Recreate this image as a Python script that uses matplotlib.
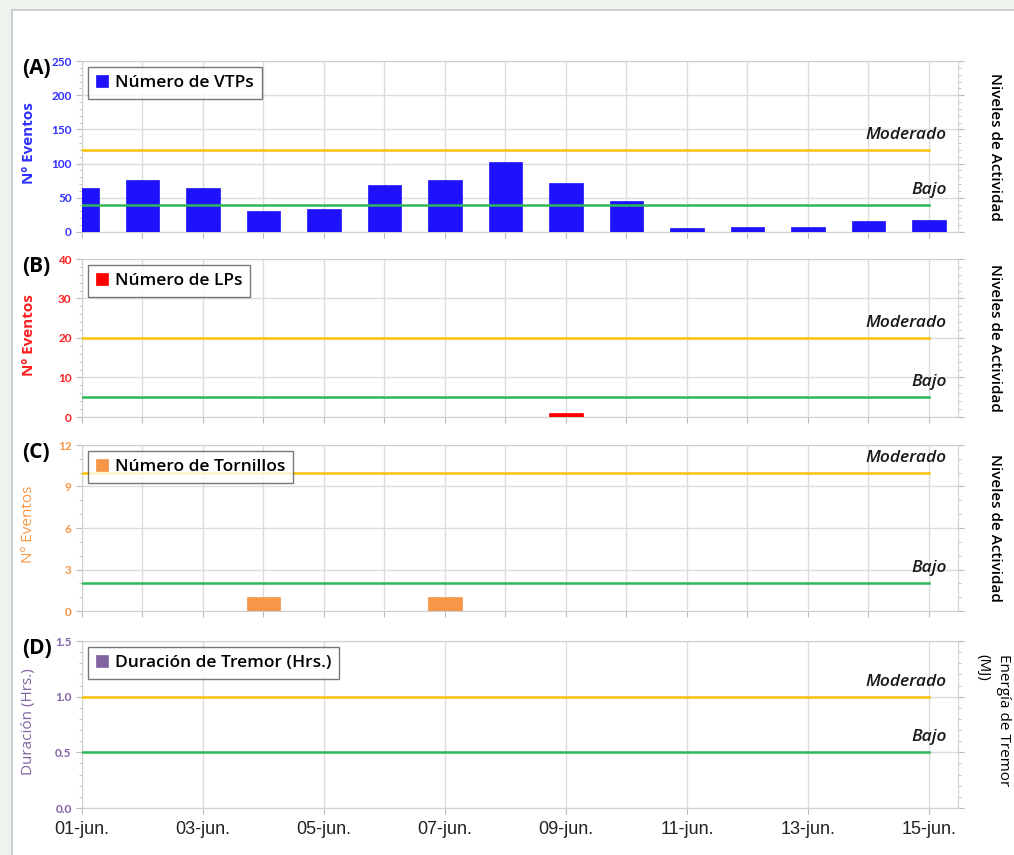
import matplotlib.pyplot as plt
from matplotlib.patches import Rectangle
from matplotlib.ticker import MultipleLocator

# days of June shown on the x axis
days = [1, 2, 3, 4, 5, 6, 7, 8, 9, 10, 11, 12, 13, 14, 15]
day_labels = ['01-jun.', '02-jun.', '03-jun.', '04-jun.', '05-jun.', '06-jun.', '07-jun.',
              '08-jun.', '09-jun.', '10-jun.', '11-jun.', '12-jun.', '13-jun.', '14-jun.', '15-jun.']

# event counts per day
vtp = [65, 76, 65, 30, 34, 69, 76, 103, 72, 45, 6, 7, 8, 16, 17]
lp = [0, 0, 0, 0, 0, 0, 0, 0, 1, 0, 0, 0, 0, 0, 0]
tornillos = [0, 0, 0, 1, 0, 0, 1, 0, 0, 0, 0, 0, 0, 0, 0]
tremor = [0, 0, 0, 0, 0, 0, 0, 0, 0, 0, 0, 0, 0, 0, 0]

# activity thresholds (moderado, bajo)
umbral_vtp = [120, 40]
umbral_lp = [20, 5]
umbral_torn = [10, 2]
umbral_trem = [1.0, 0.5]

W, H = 1014, 855
fig = plt.figure(figsize=(W / 100, H / 100), dpi=100)
fig.patch.set_facecolor('#eef3ee')
fig.patches.append(Rectangle((12 / W, -0.01), 1.0, 845 / H + 0.01, transform=fig.transFigure,
                             facecolor='white', edgecolor='#c4c8c4', lw=1.2, zorder=-10))

grid_c = '#dcdcdc'
mod_c = '#ffc000'
bajo_c = '#2db85a'

panels = [
    # label, values, color, label color, ylabel, ylim, major, minor, thresholds, top px, bottom px, legend text
    ('(A)', vtp, '#1d12fb', '#3030ff', 'Nº Eventos', 250, 50, 10, umbral_vtp, 61, 232, 'Número de VTPs', 'bold'),
    ('(B)', lp, '#ff0000', '#ff2020', 'Nº Eventos', 40, 10, 2, umbral_lp, 259, 417, 'Número de LPs', 'bold'),
    ('(C)', tornillos, '#f79646', '#f79646', 'Nº Eventos', 12, 3, 1, umbral_torn, 445, 611, 'Número de Tornillos', 'normal'),
    ('(D)', tremor, '#8064a2', '#8064a2', 'Duración (Hrs.)', 1.5, 0.5, 0.1, umbral_trem, 641, 808, 'Duración de Tremor (Hrs.)', 'normal'),
]

left, right = 82, 958
for i, (tag, vals, col, lcol, ylab, ymax, major, minor, thr, top, bot, legtxt, ylw) in enumerate(panels):
    ax = fig.add_axes([left / W, 1 - bot / H, (right - left) / W, (bot - top) / H])
    ax.bar(days, vals, width=0.55, color=col, edgecolor=col, lw=0.5, label=legtxt, zorder=3)
    ax.plot([days[0], days[-1]], [thr[0], thr[0]], color=mod_c, lw=1.8, zorder=4)
    ax.plot([days[0], days[-1]], [thr[1], thr[1]], color=bajo_c, lw=1.8, zorder=4)
    for lv, name in zip(thr, ['Moderado', 'Bajo']):
        ax.annotate(name, xy=(days[-1], lv), xytext=(13, 5), textcoords='offset points',
                    ha='right', va='bottom', fontsize=12.5, style='italic', fontweight='semibold',
                    family='Open Sans', color='#1a1a1a', zorder=5)
    ax.set_xlim(1, 15.48)
    ax.set_ylim(0, ymax)
    ax.yaxis.set_major_locator(MultipleLocator(major))
    ax.yaxis.set_minor_locator(MultipleLocator(minor))
    if tag == '(D)':
        ax.set_xticks(days[::2])
        ax.set_xticklabels(day_labels[::2], fontsize=13, family='Liberation Sans', color='#222222')
        ax.set_yticks([0, 0.5, 1.0, 1.5])
        ax.set_yticklabels(['0.0', '0.5', '1.0', '1.5'])
    else:
        ax.set_xticks(days)
        ax.set_xticklabels([])
    ax.grid(True, which='major', color=grid_c, lw=1, zorder=0)
    ax.set_axisbelow(True)
    for s in ax.spines.values():
        s.set_color('#d0d0d0')
    ax.tick_params(axis='x', which='both', length=4, color='#bbbbbb', pad=5)
    ax.tick_params(axis='y', which='major', length=4, color='#bbbbbb', labelsize=8.5,
                   labelcolor=lcol, right=True)
    ax.tick_params(axis='y', which='minor', length=2.5, color='#bbbbbb', right=True)
    for t in ax.get_yticklabels():
        t.set_fontweight('bold')
        t.set_family('Lato')
    ax.set_ylabel(ylab, color=lcol, fontsize=11, fontweight=ylw, family='Open Sans')
    ax.yaxis.set_label_coords(-0.052, 0.52)
    leg = ax.legend(loc='upper left', bbox_to_anchor=(0.0, 1.0), borderaxespad=0.35, frameon=True,
                    fancybox=False, edgecolor='#555555', handlelength=0.7, handleheight=0.7,
                    handletextpad=0.4, borderpad=0.45,
                    prop={'family': 'Open Sans', 'weight': 'semibold', 'size': 12.5})
    leg.get_frame().set_linewidth(1.0)
    fig.text(22 / W, 1 - (top + 7) / H, tag, fontsize=15, fontweight='bold', family='Open Sans',
             ha='left', va='center')
    if tag == '(D)':
        ax.text(1.04, 0.92, 'Energía de Tremor\n(MJ)', transform=ax.transAxes, rotation=-90,
                ha='center', va='top', multialignment='left', fontsize=11, family='Open Sans',
                linespacing=1.5)
    else:
        ax.text(1.042, 0.5, 'Niveles de Actividad', transform=ax.transAxes, rotation=-90,
                ha='center', va='center', fontsize=11, family='Open Sans', fontweight='semibold')

fig.savefig('out.png', dpi=100, facecolor=fig.get_facecolor())
